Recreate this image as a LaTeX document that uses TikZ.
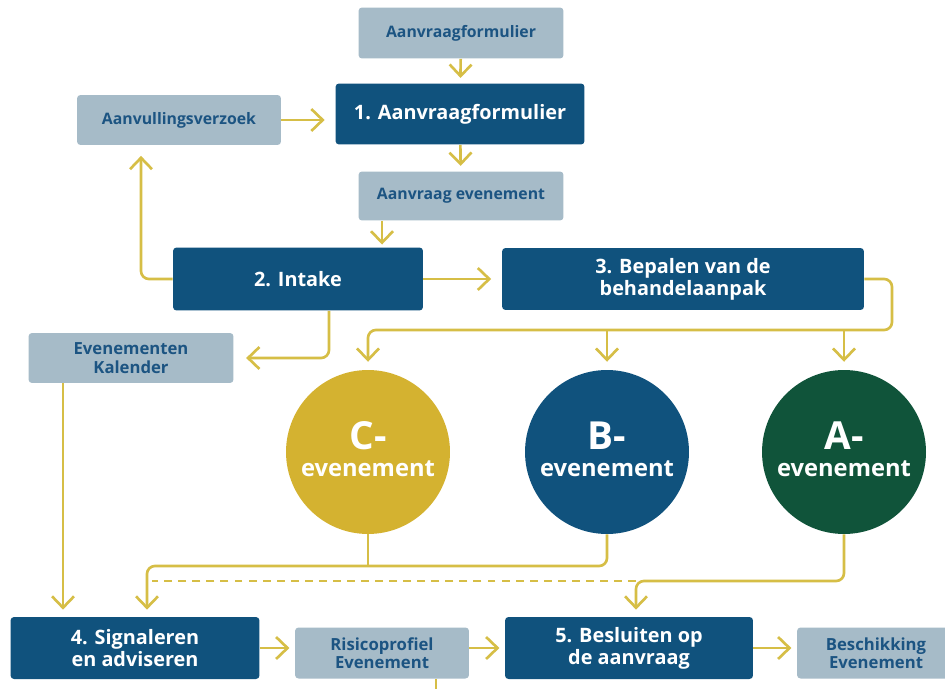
\documentclass[tikz,border=0pt]{standalone}
\usepackage{fontspec}
\setmainfont{Open Sans}
\usetikzlibrary{arrows.meta}

\definecolor{navy}{RGB}{16,82,125}
\definecolor{pale}{RGB}{166,187,200}
\definecolor{inknavy}{RGB}{28,84,130}
\definecolor{goldfill}{RGB}{212,178,48}
\definecolor{forest}{RGB}{16,84,58}
\definecolor{wire}{RGB}{214,190,70}

\newcommand\dkfont{\fontsize{11.3}{12.5}\selectfont\bfseries}
\newcommand\ltfont{\fontsize{9.5}{10.5}\selectfont\bfseries}
\newcommand\smfont{\fontsize{9}{10}\selectfont\bfseries}

\begin{document}
\begin{tikzpicture}[x=0.02cm, y=-0.02cm,
  dark/.style={rectangle, rounded corners=2pt, fill=navy, text=white, font=\dkfont, inner sep=0pt, align=center},
  light/.style={rectangle, rounded corners=2pt, fill=pale, text=inknavy, font=\ltfont, inner sep=0pt, align=center},
  circ/.style={circle, minimum size=3.28cm, inner sep=0pt},
  bigtxt/.style={text=white, font=\fontsize{22}{22}\selectfont\bfseries, inner sep=0pt},
  evtxt/.style={text=white, font=\fontsize{13.5}{14}\selectfont\bfseries, inner sep=0pt},
  line/.style={draw=wire, line width=1.5pt},
  arr/.style={line, -{Straight Barb[length=6.5pt,width=12.5pt]}, shorten >=3pt},
  dashline/.style={dash pattern=on 4.5pt off 3.5pt}]

  % canvas
  \path[fill=white, use as bounding box] (0,0) rectangle (945,689);

  % top part
  \node[light, font=\smfont, minimum width=4.1cm, minimum height=1.02cm] (top) at (461,33) {Aanvraagformulier};
  \node[dark, minimum width=4.98cm, minimum height=1.22cm] (s1) at (460,114) {1. Aanvraagformulier};
  \node[light, font=\smfont, minimum width=4.08cm, minimum height=1cm] (verz) at (179,120) {Aanvullingsverzoek};
  \node[light, font=\smfont, minimum width=4.1cm, minimum height=0.98cm] (aev) at (461,196) {Aanvraag evenement};
  \node[dark, minimum width=5cm, minimum height=1.26cm] (intake) at (298,279) {2. Intake};
  \node[dark, minimum width=7.24cm, minimum height=1.24cm] (s3) at (683,279) {3. Bepalen van de\\behandelaanpak};
  \node[light, minimum width=4.1cm, minimum height=1cm] (kal) at (131,358) {Evenementen\\Kalender};

  % event types
  \node[circ, fill=goldfill] (C) at (368,452) {};
  \node[circ, fill=navy] (B) at (607,452) {};
  \node[circ, fill=forest] (A) at (844,452) {};
  \node[bigtxt] (Ct) at ([yshift=0.32cm]C.center) {C-};
  \node[evtxt] (Ce) at ([yshift=-0.34cm]C.center) {evenement};
  \node[bigtxt] (Bt) at ([yshift=0.32cm]B.center) {B-};
  \node[evtxt] (Be) at ([yshift=-0.34cm]B.center) {evenement};
  \node[bigtxt] (At) at ([yshift=0.32cm]A.center) {A-};
  \node[evtxt] (Ae) at ([yshift=-0.34cm]A.center) {evenement};

  % bottom row
  \node[dark, minimum width=4.98cm, minimum height=1.24cm] (sig) at (135,648) {4. Signaleren\\en adviseren};
  \node[light, minimum width=3.48cm, minimum height=1.02cm] (risk) at (382,653) {Risicoprofiel\\Evenement};
  \node[dark, minimum width=4.96cm, minimum height=1.24cm] (bes) at (629,648) {5. Besluiten op\\de aanvraag};
  \node[light, minimum width=3.16cm, minimum height=1.02cm] (besch) at (876,653) {Beschikking\\Evenement};

  \coordinate (split) at (892,330);
  \coordinate (low) at (147,566);
  \coordinate (mid) at (636,581);
  \coordinate (out) at (436,689);

  % connectors
  \draw[arr] (top) -- (s1);
  \draw[arr, shorten >=6pt] (verz.east) -- (verz.east -| s1.west);
  \draw[arr] (s1) -- (aev);
  \draw[arr, shorten >=1.5pt] ([xshift=-1.58cm]aev.south) -- ([xshift=-1.58cm]aev.south |- intake.north);
  \draw[arr, rounded corners=4.5pt, shorten >=6pt] (intake.west) -| ([xshift=-0.76cm]verz.south);
  \draw[arr, shorten >=6pt] (intake) -- (s3);
  \draw[arr, rounded corners=4.5pt, shorten >=7pt] ([xshift=0.62cm]intake.south) |- (kal.east);
  \draw[arr, rounded corners=4.5pt, shorten >=4.5pt] (s3.east) -| (split) -| (C.north);
  \draw[arr, shorten >=4.5pt] (B.north |- split) -- (B.north);
  \draw[arr, shorten >=4.5pt] (A.north |- split) -- (A.north);
  \draw[arr, shorten >=4pt] ([xshift=-1.36cm]kal.south) -- ([xshift=-1.36cm]kal.south |- sig.north);
  \draw[line] (C.south) -- (C.south |- low);
  \draw[arr, rounded corners=4.5pt, shorten >=4pt] (B.south) |- (low) -- (low |- sig.north);
  \draw[arr, rounded corners=4.5pt, shorten >=4pt] (A.south) |- (mid) -- (mid |- bes.north);
  \draw[line, dashline] (mid) -- ([xshift=0.1cm]low |- mid);
  \draw[arr] (sig.east) -- (sig.east -| risk.west);
  \draw[arr] (sig.east -| risk.east) -- (sig.east -| bes.west);
  \draw[arr] (bes.east) -- (bes.east -| besch.west);
  \draw[line] (risk.south -| out) -- (out);
\end{tikzpicture}
\end{document}
